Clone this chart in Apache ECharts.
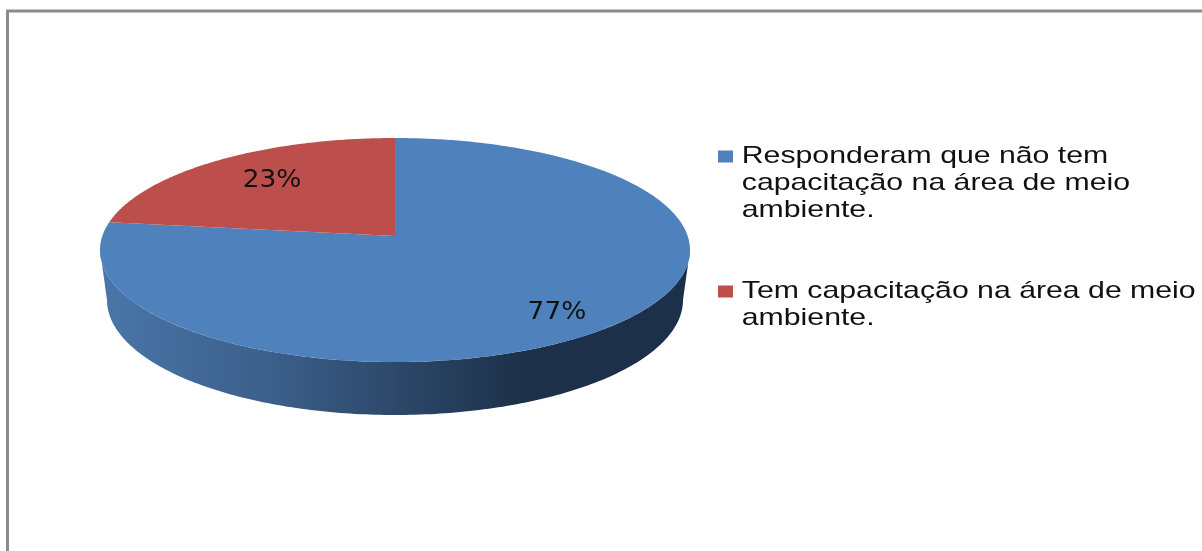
<!DOCTYPE html>
<html><head><meta charset="utf-8">
<style>html,body{margin:0;padding:0;background:#fff;overflow:hidden}#c{width:1202px;height:551px}</style>
<script src="https://cdn.jsdelivr.net/npm/echarts@6/dist/echarts.min.js"></script>
</head><body><div id="c"></div>
<script>
const categories = [
  "Responderam que não tem\ncapacitação na área de meio\nambiente.",
  "Tem capacitação na área de meio\nambiente."
];
const shares = [77, 23];
const labels = ["77%", "23%"];
const colors = ["#4f81bd", "#bc4f4c"];

const total = shares.reduce((a, b) => a + b, 0);
const E = {cx: 395, cy: 250, rx: 295, ry: 112, ax: 395, ay: 236, bcy: 300, brx: 288, bry: 115};
const labelReachX = [0.83, 0.63];
const labelReachY = [0.91, 0.66];
const legendStretch = 1.26;

function rim(theta) {
  const dx = Math.sin(theta) * E.rx, dy = -Math.cos(theta) * E.ry;
  const ox = E.ax - E.cx, oy = E.ay - E.cy;
  const A = dx*dx/(E.rx*E.rx) + dy*dy/(E.ry*E.ry);
  const B = 2*(ox*dx/(E.rx*E.rx) + oy*dy/(E.ry*E.ry));
  const C = ox*ox/(E.rx*E.rx) + oy*oy/(E.ry*E.ry) - 1;
  const t = (-B + Math.sqrt(B*B - 4*A*C)) / (2*A);
  return [E.ax + t*dx, E.ay + t*dy];
}
function wallPoints() {
  const pts = [];
  for (let i = 0; i <= 180; i++) {
    const a = Math.PI * i / 180;
    pts.push([E.cx + E.rx*Math.cos(a), E.cy + E.ry*Math.sin(a)]);
  }
  for (let i = 180; i >= 0; i--) {
    const a = Math.PI * i / 180;
    pts.push([E.cx + E.brx*Math.cos(a), E.bcy + E.bry*Math.sin(a)]);
  }
  return pts;
}
function makeRender(idx) {
  return function (params, api) {
    const before = shares.slice(0, idx).reduce((a, b) => a + b, 0);
    const s = before / total * 2 * Math.PI;
    const e = (before + api.value(0)) / total * 2 * Math.PI;
    const pts = [[E.ax, E.ay]];
    const n = Math.max(8, Math.round((e - s) * 90));
    for (let i = 0; i <= n; i++) pts.push(rim(s + (e - s) * i / n));
    const mid = (s + e) / 2;
    const lx = E.ax + Math.sin(mid) * E.rx * labelReachX[idx];
    const ly = E.ay - Math.cos(mid) * E.ry * labelReachY[idx];
    const children = [];
    if (idx === 0) {
      children.push({
        type: 'polygon', shape: {points: wallPoints()},
        style: {fill: {type: 'linear', x: 100, y: 0, x2: 690, y2: 0, global: true, colorStops: [
          {offset: 0, color: '#4a76a9'}, {offset: 0.30, color: '#3b5e89'},
          {offset: 0.72, color: '#1d3049'}, {offset: 1, color: '#1d3049'}]}}
      });
    }
    children.push({type: 'polygon', shape: {points: pts}, style: {fill: colors[idx]}});
    children.push({
      type: 'text', x: lx, y: ly, scaleX: 1.1,
      style: {text: labels[idx], fill: '#111', font: '24px "DejaVu Sans"', align: 'center', verticalAlign: 'middle'},
      z2: 10
    });
    return {type: 'group', children};
  };
}
const chart = echarts.init(document.getElementById('c'), null, {renderer: 'canvas'});
chart.setOption({
  animation: false,
  backgroundColor: '#fff',
  graphic: [{type: 'rect', silent: true, z: -1, shape: {x: 7.5, y: 11, width: 1400, height: 800},
    style: {fill: 'none', stroke: '#8a8a8a', lineWidth: 3}}],
  legend: {
    orient: 'vertical', left: 713, top: 84, itemWidth: 15, itemHeight: 12, itemGap: 27,
    icon: 'rect',
    data: categories,
    formatter: n => (n === categories[0] ? '\n\n' : '\n') + n,
    textStyle: {fontFamily: '"Liberation Sans"', fontSize: 24, lineHeight: 27, color: '#111', padding: [0, 0, 0, 3]}
  },
  series: categories.map((name, i) => ({
    type: 'custom', name, coordinateSystem: 'none',
    itemStyle: {color: colors[i]},
    data: [[shares[i]]],
    renderItem: makeRender(i)
  }))
});
// The source's legend type is horizontally stretched; widen the legend's own text.
chart.getZr().storage.getRoots().forEach(root => {
  if (!root.traverse) return;
  root.traverse(el => {
    const t = el.style && el.style.text;
    if (typeof t === 'string' && categories.some(c => t.indexOf(c) >= 0) && el.type !== 'tspan') {
      el.scaleX = legendStretch;
      el.originX = el.x ? 0 : (el.style.x || 0);
      el.markRedraw();
    }
  });
});
</script></body></html>
